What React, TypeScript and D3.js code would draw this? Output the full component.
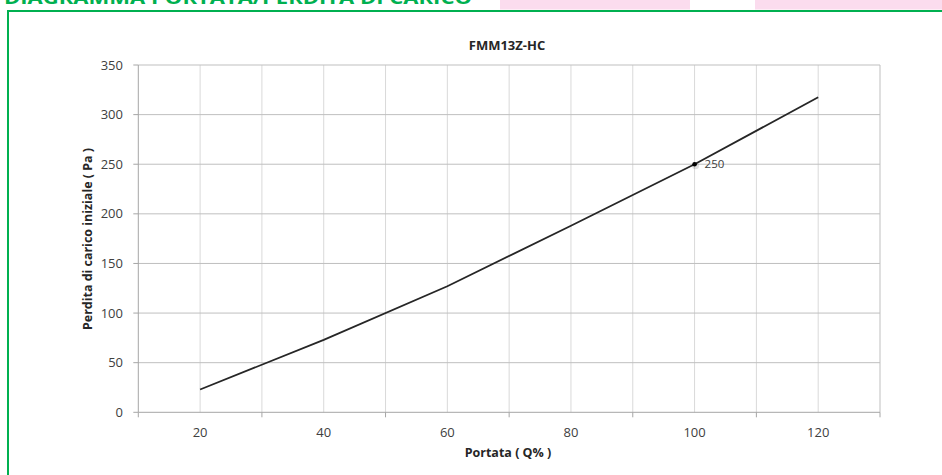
import React from "react";
import * as d3 from "d3";

const portata = [20, 40, 60, 80, 100, 120];
const perdita = [23, 73, 127, 188, 250, 317.5];
const yTicks = [0, 50, 100, 150, 200, 250, 300, 350];
const xLabels = [20, 40, 60, 80, 100, 120];
const xGrid = [20, 30, 40, 50, 60, 70, 80, 90, 100, 110, 120, 130];
const xTickMarks = [10, 30, 50, 70, 90, 110, 130];
const chartTitle = "FMM13Z-HC";
const pageTitle = "DIAGRAMMA PORTATA/PERDITA DI CARICO";
const xTitle = "Portata ( Q% )";
const yTitle = "Perdita di carico iniziale ( Pa )";
const labelledX = 100;

export default function App() {
  const W = 942, H = 475;
  const x = d3.scaleLinear().domain([10, 130]).range([138.3, 880]);
  const y = d3.scaleLinear().domain([0, 350]).range([412.3, 65]);
  const data = portata.map((p, i) => ({ p, v: perdita[i] }));
  const line = d3.line<{ p: number; v: number }>().x(d => x(d.p)).y(d => y(d.v));
  const lab = data.find(d => d.p === labelledX)!;
  const font = "'Open Sans', sans-serif";
  return (
    <svg width={W} height={H} style={{ position: "absolute", left: 0, top: 0, background: "#fff" }} fontFamily={font}>
      <rect x={500} y={0} width={190} height={9.5} fill="#fbdcee" />
      <rect x={755} y={0} width={190} height={9.5} fill="#fbdcee" />
      <text x={4} y={4} fontSize={17} fontWeight="bold" fill="#00b050" textLength={468} lengthAdjust="spacingAndGlyphs">{pageTitle}</text>
      <rect x={8} y={11} width={960} height={500} fill="none" stroke="#00b050" strokeWidth={2} />
      {/* vertical grid */}
      {xGrid.map(g => (
        <line key={"vg" + g} x1={x(g)} x2={x(g)} y1={y(0)} y2={y(350)} stroke={g === 130 ? "#bfbfbf" : "#d9d9d9"} strokeWidth={1} />
      ))}
      {/* horizontal grid */}
      {yTicks.filter(t => t > 0).map(t => (
        <line key={"hg" + t} x1={x(10)} x2={x(130)} y1={y(t)} y2={y(t)} stroke="#bfbfbf" strokeWidth={1} />
      ))}
      {/* axes */}
      <line x1={x(10)} x2={x(10)} y1={y(0)} y2={y(350)} stroke="#a6a6a6" />
      <line x1={x(10)} x2={x(130)} y1={y(0)} y2={y(0)} stroke="#a6a6a6" />
      {yTicks.map(t => (
        <g key={"yt" + t}>
          <line x1={x(10) - 5} x2={x(10)} y1={y(t)} y2={y(t)} stroke="#a6a6a6" />
          <text x={123} y={y(t)} dy="0.35em" textAnchor="end" fontSize={13} fill="#404040">{t}</text>
        </g>
      ))}
      {xTickMarks.map(t => (
        <line key={"xt" + t} x1={x(t)} x2={x(t)} y1={y(0)} y2={y(0) + 5} stroke="#a6a6a6" />
      ))}
      {xLabels.map(t => (
        <text key={"xl" + t} x={x(t)} y={437} textAnchor="middle" fontSize={13} fill="#404040">{t}</text>
      ))}
      <path d={line(data) || ""} fill="none" stroke="#262626" strokeWidth={1.8} />
      <circle cx={x(lab.p) + 1} cy={y(lab.v) + 1.5} r={3.5} fill="#000" opacity={0.12} />
      <circle cx={x(lab.p)} cy={y(lab.v)} r={2.3} fill="#000" />
      <text x={x(lab.p) + 10} y={y(lab.v)} dy="0.35em" fontSize={11.5} fill="#404040">{lab.v}</text>
      <text x={507} y={50} textAnchor="middle" fontSize={13} fontWeight="bold" fill="#262626">{chartTitle}</text>
      <text x={508} y={457} textAnchor="middle" fontSize={12.5} fontWeight="bold" fill="#262626">{xTitle}</text>
      <text transform={`translate(92,239) rotate(-90)`} textAnchor="middle" fontSize={12.5} fontWeight="bold" fill="#262626" textLength={182} lengthAdjust="spacingAndGlyphs">{yTitle}</text>
    </svg>
  );
}
